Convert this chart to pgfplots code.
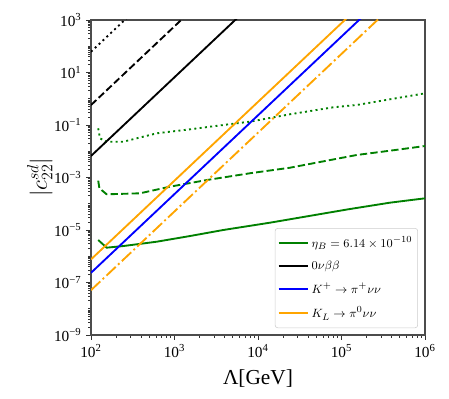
\documentclass[border=0pt]{standalone}
\usepackage{fontspec}
\setmainfont{Liberation Serif}
\usepackage{pgfplots}
\pgfplotsset{compat=1.18}
\definecolor{mgreen}{HTML}{008000}
\definecolor{morange}{HTML}{FFA500}
\definecolor{mblue}{HTML}{0000FF}
\def\yminor{}
\pgfplotsforeachungrouped \ee in {-9,...,2}{%
  \pgfplotsforeachungrouped \mm in {1,...,9}{%
    \xdef\yminor{\yminor\mm e\ee,}}}
\xdef\yminor{\yminor 1e3}
\def\xminor{}
\pgfplotsforeachungrouped \ee in {2,...,5}{%
  \pgfplotsforeachungrouped \mm in {2,...,9}{%
    \xdef\xminor{\xminor\mm e\ee,}}}
\xdef\xminor{\xminor 1e6}
\newcommand{\tl}[1]{10\textsuperscript{#1}}
\begin{document}
\begin{tikzpicture}
\begin{axis}[
  xmode=log, ymode=log,
  xmin=1e2, xmax=1e6, ymin=1e-9, ymax=1e3,
  scale only axis, width=250.5pt, height=236.25pt,
  xtick={1e2,1e3,1e4,1e5,1e6},
  xticklabels={\tl{2},\tl{3},\tl{4},\tl{5},\tl{6}},
  ytick={1e-9,1e-7,1e-5,1e-3,1e-1,1e1,1e3},
  yticklabels={\tl{−9},\tl{−7},\tl{−5},\tl{−3},\tl{−1},\tl{1},\tl{3}},
  minor xtick/.expand once=\xminor,
  minor ytick/.expand once=\yminor,
  tick pos=left, tick align=outside,
  major tick length=3.6pt, minor tick length=2pt,
  every tick/.style={black!80, line width=0.6pt},
  axis line style={black!70, line width=0.9pt},
  tick label style={font=\fontsize{11.5}{13}\selectfont},
  xlabel={Λ[GeV]},
  xlabel style={font=\fontsize{16}{18}\selectfont, at={(axis description cs:0.5,-0.137)}, anchor=center},
  ylabel={$|c_{22}^{sd}|$},
  ylabel style={font=\fontsize{17.5}{20}\selectfont, at={(axis description cs:-0.153,0.5)}, anchor=center},
  legend cell align=left,
  legend style={at={(0.979,0.022)}, anchor=south east, draw=black!20, rounded corners=2pt,
    font=\fontsize{9.5}{11}\selectfont, row sep=4.5pt, inner xsep=2pt, inner ysep=4pt},
  legend image code/.code={\draw[#1] (0pt,0pt) -- (22pt,0pt);},
]
\addlegendimage{mgreen, line width=1.4pt}
\addlegendentry{$\eta_B=6.14\times10^{-10}$}
\addlegendimage{black, line width=1.4pt}
\addlegendentry{$0\nu\beta\beta$}
\addlegendimage{draw=mblue, color=mblue, line width=1.4pt}
\addlegendentry{$K^{+}\rightarrow\pi^{+}\nu\nu$}
\addlegendimage{morange, line width=1.4pt}
\addlegendentry{$K_{L}\rightarrow\pi^{0}\nu\nu$}
% eta_B curves
\addplot[mgreen, line width=1.4pt, forget plot] coordinates {
(122,4.16e-6) (154,2.12e-6) (244,2.45e-6) (612,3.58e-6) (1535,5.9e-6) (3837,1.0e-5)
(13930,1.9e-5) (120500,6.15e-5) (381000,1.1e-4) (1e6,1.61e-4)};
\addplot[mgreen, line width=1.4pt, dash pattern=on 5.5pt off 2.4pt, forget plot] coordinates {
(122,7.6e-4) (126,3.9e-4) (154,2.29e-4) (386,2.5e-4) (883,4.47e-4) (2432,8.0e-4)
(8017,1.45e-3) (24150,2.36e-3) (152000,7.2e-3) (381000,1.05e-2) (1e6,1.58e-2)};
\addplot[mgreen, line width=1.4pt, dash pattern=on 1.5pt off 2.5pt, forget plot] coordinates {
(122,0.0748) (128,0.031) (154,0.0231) (244,0.0231) (612,0.0482) (1535,0.0685) (3837,0.1)
(8017,0.134) (24150,0.256) (79800,0.472) (152000,0.578) (1e6,1.61)};
% 0nubb
\addplot[black, line width=1.4pt, forget plot] coordinates {(100,6.6e-3) (1000,6.6) (10000,6600)};
\addplot[black, line width=1.4pt, dash pattern=on 5.5pt off 2.4pt, forget plot] coordinates {(100,0.575) (1000,575) (2000,4600)};
\addplot[black, line width=1.4pt, dash pattern=on 1.5pt off 2.5pt, forget plot] coordinates {(100,61.7) (1000,61700)};
% K+
\addplot[mblue, line width=1.4pt, forget plot] coordinates {(100,2.34e-7) (1000,2.34e-4) (1e4,0.234) (1e5,234) (1e6,2.34e5)};
% KL
\addplot[morange, line width=1.4pt, forget plot] coordinates {(100,7.6e-7) (1000,7.6e-4) (1e4,0.76) (1e5,760) (1e6,7.6e5)};
\addplot[morange, line width=1.4pt, dash pattern=on 9.6pt off 2.4pt on 1.5pt off 2.4pt, forget plot] coordinates {(100,5.1e-8) (1000,5.1e-5) (1e4,0.051) (1e5,51) (1e6,5.1e4)};
\end{axis}
\path ([shift={(-68.25pt,-48pt)}]current axis.south west) rectangle ([shift={(18pt,15pt)}]current axis.north east);
\end{tikzpicture}
\end{document}
